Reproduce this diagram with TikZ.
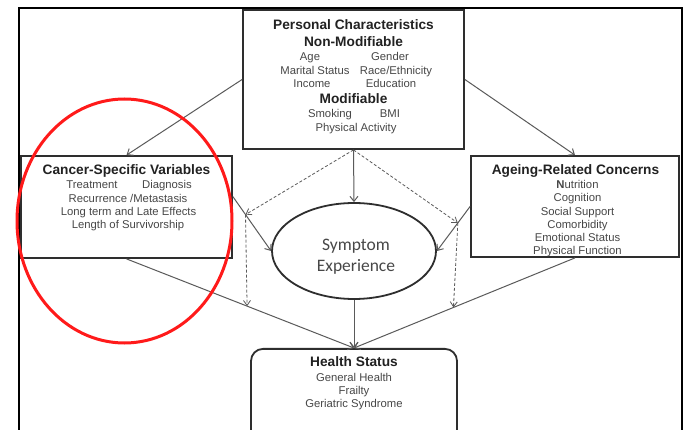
\documentclass[tikz,border=0pt]{standalone}
\usepackage{fontspec}
\setmainfont{Liberation Sans}
\newfontfamily\calibrifont{Carlito}
\usetikzlibrary{arrows.meta,shapes.geometric,calc}
\definecolor{boxc}{HTML}{2E2E2E}
\definecolor{linec}{HTML}{5A5A5A}
\definecolor{txt}{HTML}{474747}
\definecolor{ttl}{HTML}{222222}
\definecolor{redc}{HTML}{FF1A1A}
\begin{document}
\begin{tikzpicture}[x=1pt,y=-1pt,
 box/.style={draw=boxc,line width=1.8pt,inner sep=0pt},
 conn/.style={draw=linec,line width=1pt,-{Straight Barb[length=5pt,width=8pt]}},
 dconn/.style={draw=linec,line width=0.8pt,densely dashed,-{Straight Barb[length=5pt,width=7pt]}},
 ttlt/.style={font=\fontsize{13.7}{16}\selectfont\bfseries,text=ttl,inner sep=0pt,anchor=mid,yshift=-2.5pt},
 itm/.style={font=\fontsize{11.3}{13.5}\selectfont,text=txt,inner sep=0pt,anchor=mid,yshift=-2.5pt}]
\useasboundingbox (0,0) rectangle (683,430);
\clip (0,0) rectangle (683,430);
\fill[white] (0,0) rectangle (683,430);
% outer frame
\draw[line width=2.5pt,black] (19,445) -- (19,8) -- (682,8) -- (682,445);

% boxes
\node[box,minimum width=221pt,minimum height=139pt] (pc) at (353.5,79.5) {};
\node[box,minimum width=211pt,minimum height=102pt] (cs) at (126.5,207) {};
\node[box,minimum width=208pt,minimum height=101pt] (ar) at (575,206.5) {};
\node[box,rounded corners=12pt,minimum width=206pt,minimum height=100pt,anchor=north] (hs) at (354,348) {};
\node[draw=boxc,line width=1.8pt,ellipse,inner sep=0pt,minimum width=164pt,minimum height=96pt] (se) at (354,251) {};

% personal characteristics text
\node[ttlt] (pc1) at (353.5,24) {Personal Characteristics};
\node[ttlt] (pc2) at (353.5,41) {Non-Modifiable};
\node[itm] (pc3a) at (310,55) {Age};
\node[itm] (pc3b) at (390,55) {Gender};
\node[itm] (pc4a) at (315,69) {Marital Status};
\node[itm] (pc4b) at (396,69) {Race/Ethnicity};
\node[itm] (pc5a) at (312,82) {Income};
\node[itm] (pc5b) at (391,82) {Education};
\node[ttlt] (pc6) at (353.5,98) {Modifiable};
\node[itm] (pc7a) at (330,112) {Smoking};
\node[itm] (pc7b) at (390,112) {BMI};
\node[itm] (pc8) at (356,126) {Physical Activity};

% cancer-specific text
\node[ttlt] (cs1) at (126.5,169) {Cancer-Specific Variables};
\node[itm] (cs2a) at (92,183) {Treatment};
\node[itm] (cs2b) at (167,183) {Diagnosis};
\node[itm] (cs3) at (128,197) {Recurrence /Metastasis};
\node[itm] (cs4) at (128.5,210) {Long term and Late Effects};
\node[itm] (cs5) at (128,223) {Length of Survivorship};

% ageing-related text
\node[ttlt] (ar1) at (575.5,169) {Ageing-Related Concerns};
\node[itm] (ar2) at (577.5,183) {\textbf{N}utrition};
\node[itm] (ar3) at (577.5,196.5) {Cognition};
\node[itm] (ar4) at (577.5,210) {Social Support};
\node[itm] (ar5) at (577.5,223) {Comorbidity};
\node[itm] (ar6) at (577.5,236) {Emotional Status};
\node[itm] (ar7) at (577.5,249) {Physical Function};

% health status text
\node[ttlt] (hs1) at (354,361) {Health Status};
\node[itm] (hs2) at (354,376) {General Health};
\node[itm] (hs3) at (354,389.5) {Frailty};
\node[itm] (hs4) at (354,402.5) {Geriatric Syndrome};

% symptom experience text
\node[font=\calibrifont\fontsize{17.5}{21}\selectfont,text=txt,align=center,inner sep=0pt] (se1) at (356,257) {Symptom\\Experience};

% solid connectors
\coordinate (csr) at ($(cs.north east)!0.4!(cs.south east)$);
\draw[conn] (pc.west) -- (cs.north);
\draw[conn] (pc.east) -- (ar.north);
\draw[conn] (pc.south) -- (se.north);
\draw[conn] (csr) -- (se.west);
\draw[conn] (ar.west) -- (se.east);
\draw[conn] (cs.south) -- (hs.north);
\draw[conn] (ar.south) -- (hs.north);
\draw[conn] (se.south) -- (hs.north);

% dashed (moderating) connectors
\coordinate (dl) at ($(csr)!0.33!(se.west)$);
\coordinate (dr) at ($(ar.west)!0.37!(se.east)$);
\coordinate (dlb) at ($(cs.south)!0.53!(hs.north)$);
\coordinate (drb) at ($(ar.south)!0.55!(hs.north)$);
\draw[dconn] (pc.south) -- (dl);
\draw[dconn] (pc.south) -- (dr);
\draw[dconn] (dl) -- (dlb);
\draw[dconn] (dr) -- (drb);

% red highlight
\draw[redc,line width=3pt] (124.5,221) ellipse [x radius=107.5, y radius=122];
\end{tikzpicture}
\end{document}
